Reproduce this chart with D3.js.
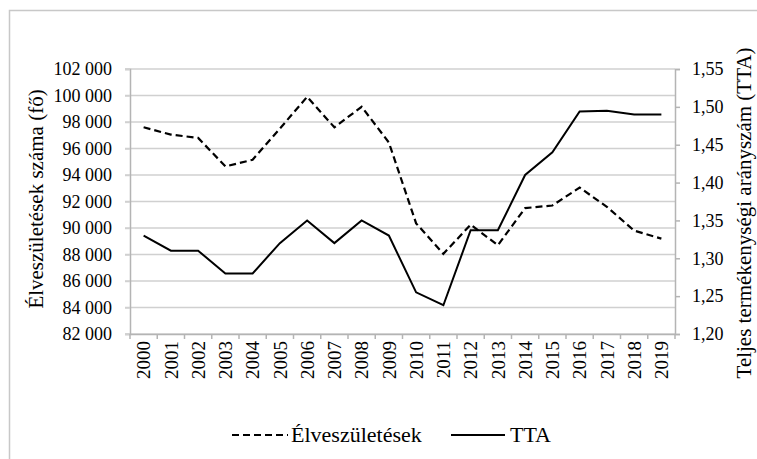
<!DOCTYPE html>
<html><head><meta charset="utf-8">
<script src="https://cdn.jsdelivr.net/npm/d3@7"></script>
<style>body{margin:0;background:#fff}svg{display:block}</style>
</head><body><svg id="c" width="757" height="459"></svg>
<script>
const years = ["2000","2001","2002","2003","2004","2005","2006","2007","2008","2009","2010","2011","2012","2013","2014","2015","2016","2017","2018","2019"];
const births = [97600,97050,96800,94650,95150,97500,99900,97600,99150,96450,90350,88050,90250,88700,91500,91700,93050,91600,89800,89200];
const tta = [1.33,1.31,1.31,1.28,1.28,1.32,1.35,1.32,1.35,1.33,1.255,1.238,1.337,1.337,1.41,1.44,1.494,1.495,1.49,1.49];
const leftTicks = [82000,84000,86000,88000,90000,92000,94000,96000,98000,100000,102000];
const rightTicks = [1.20,1.25,1.30,1.35,1.40,1.45,1.50,1.55];
const seriesNames = ["Élveszületések","TTA"];
const leftTitle = "Élveszületések száma (fő)";
const rightTitle = "Teljes termékenységi arányszám (TTA)";

const FONT = "Liberation Serif";
const svg = d3.select("#c").attr("font-family", FONT);
const L = 130, R = 675, T = 69, B = 334;
const x = d3.scaleBand().domain(years).range([L, R]);
const yL = d3.scaleLinear().domain([82000,102000]).range([B, T]);
const yR = d3.scaleLinear().domain([1.20,1.55]).range([B, T]);
const fmtL = d => d3.format(",")(d).replace(/,/g, "\u00a0");
const fmtR = d => d3.format(".2f")(d).replace(".", ",");

// outer border
svg.append("rect").attr("x",9.5).attr("y",10.5).attr("width",800).attr("height",500)
  .attr("fill","none").attr("stroke","#c8c8c8").attr("stroke-width",1.5);

// gridlines
svg.append("g").selectAll("line").data(leftTicks).join("line")
  .attr("x1",L-5).attr("x2",R).attr("y1",d=>yL(d)).attr("y2",d=>yL(d))
  .attr("stroke","#d0d0d0").attr("stroke-width",1.5);

const axisCol = "#b4b4b4";
// left axis
const gl = svg.append("g").attr("transform",`translate(${L},0)`)
  .call(d3.axisLeft(yL).tickValues(leftTicks).tickFormat(fmtL).tickSize(5).tickPadding(13))
  .attr("font-family", FONT).attr("font-size", 18);
gl.select(".domain").attr("stroke",axisCol).attr("stroke-width",1.5);
gl.selectAll(".tick line").attr("stroke","#d0d0d0").attr("stroke-width",1.5);
gl.selectAll("text").attr("fill","#000");

// right axis
const gr = svg.append("g").attr("transform",`translate(${R},0)`)
  .call(d3.axisRight(yR).tickValues(rightTicks).tickFormat(fmtR).tickSize(5).tickPadding(12))
  .attr("font-family", FONT).attr("font-size", 18);
gr.select(".domain").attr("stroke",axisCol).attr("stroke-width",1.5);
gr.selectAll(".tick line").attr("stroke",axisCol).attr("stroke-width",1.5);
gr.selectAll("text").attr("fill","#000");

// bottom axis
const gb = svg.append("g").attr("transform",`translate(0,${B})`)
  .call(d3.axisBottom(x).tickSize(0).tickPadding(0))
  .attr("font-family", FONT).attr("font-size", 19);
gb.select(".domain").attr("stroke",axisCol).attr("stroke-width",1.5);
gb.selectAll(".tick text").attr("transform","rotate(-90)").attr("x",-7).attr("y",0).attr("dy","0.35em")
  .attr("text-anchor","end").attr("fill","#000");
// boundary ticks
const bounds = years.map(d => x(d)).concat([R]);
svg.append("g").selectAll("line").data(bounds).join("line")
  .attr("x1",d=>d).attr("x2",d=>d).attr("y1",B).attr("y2",B+5)
  .attr("stroke",axisCol).attr("stroke-width",1.5);

const cx = d => x(d) + x.bandwidth()/2;
// lines
svg.append("path").datum(births)
  .attr("d", d3.line().x((d,i)=>cx(years[i])).y(d=>yL(d)))
  .attr("fill","none").attr("stroke","#000").attr("stroke-width",2.2).attr("stroke-dasharray","7,4");
svg.append("path").datum(tta)
  .attr("d", d3.line().x((d,i)=>cx(years[i])).y(d=>yR(d)))
  .attr("fill","none").attr("stroke","#000").attr("stroke-width",2);

// axis titles
svg.append("text").attr("transform",`translate(36,199) rotate(-90)`).attr("text-anchor","middle")
  .attr("dy","0.35em").attr("font-size",21).text(leftTitle);
svg.append("text").attr("transform",`translate(744,213) rotate(-90)`).attr("text-anchor","middle")
  .attr("dy","0.35em").attr("font-size",21).text(rightTitle);

// legend
const lg = svg.append("g").attr("font-size",22);
lg.append("line").attr("x1",232).attr("x2",288).attr("y1",435).attr("y2",435)
  .attr("stroke","#000").attr("stroke-width",2.2).attr("stroke-dasharray","7,4");
lg.append("text").attr("x",291).attr("y",442).text(seriesNames[0]);
lg.append("line").attr("x1",451).attr("x2",505).attr("y1",435).attr("y2",435)
  .attr("stroke","#000").attr("stroke-width",2);
lg.append("text").attr("x",510).attr("y",442).text(seriesNames[1]);
</script></body></html>
